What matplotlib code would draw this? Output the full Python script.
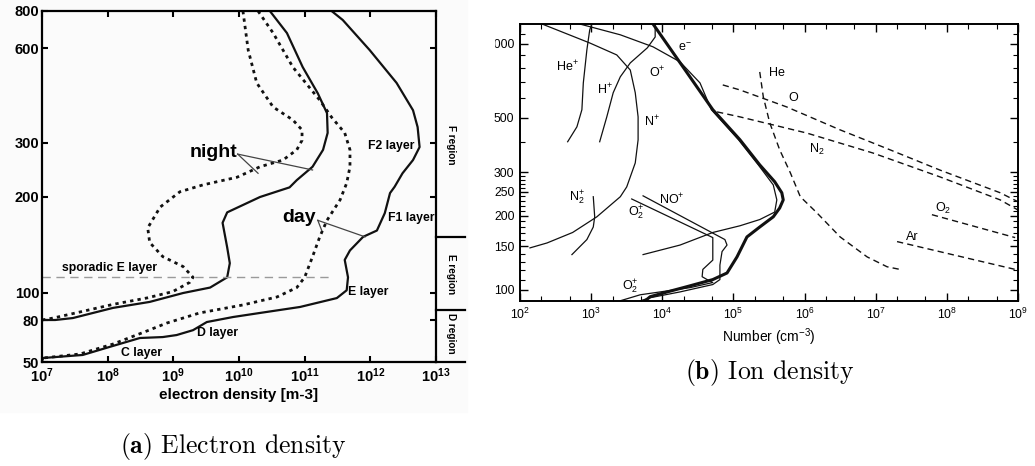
import matplotlib.pyplot as plt
import numpy as np
from matplotlib.patches import Rectangle
from matplotlib.ticker import FixedLocator, NullFormatter, LogLocator

plt.rcParams['font.family'] = ['Liberation Sans', 'DejaVu Sans']
plt.rcParams['mathtext.fontset'] = 'custom'
plt.rcParams['mathtext.rm'] = 'Liberation Sans'
plt.rcParams['mathtext.it'] = 'Liberation Sans:italic'
plt.rcParams['mathtext.bf'] = 'Liberation Sans:bold'

# ---------------- (a) electron density: altitude [km], log10 density [m-3]
night_es_alt = [800, 591, 465, 390, 355, 330, 306, 285, 264, 251, 232, 219, 208, 186,
                160, 144, 130, 121, 112, 108, 101, 96, 91, 85.5, 81.3, 80]
night_es_logn = [10.06, 10.14, 10.27, 10.52, 10.82, 10.96, 10.96, 10.88, 10.67, 10.32,
                 9.97, 9.45, 9.10, 8.80, 8.61, 8.64, 8.84, 9.15, 9.30, 9.25, 8.99, 8.60,
                 8.08, 7.58, 7.17, 7.0]

night_alt = [800, 674, 522, 431, 373, 323, 285, 251, 227, 215, 200, 179, 166, 139, 124,
             112, 104, 100, 92.9, 88.4, 81.3, 80, 80]
night_logn = [10.47, 10.73, 10.97, 11.20, 11.34, 11.35, 11.28, 11.12, 10.88, 10.77, 10.32,
              9.82, 9.75, 9.82, 9.86, 9.82, 9.56, 9.15, 8.64, 8.08, 7.47, 7.2, 7.0]

day_min_alt = [800, 674, 522, 410, 362, 323, 285, 251, 222, 196, 169, 150, 130, 112, 104,
               96.8, 90.6, 84.8, 77.3, 70.8, 61.1, 54.7, 52.3]
day_min_logn = [10.29, 10.52, 10.82, 11.23, 11.41, 11.61, 11.69, 11.69, 11.64, 11.54, 11.34,
                11.23, 11.12, 11.00, 10.88, 10.58, 10.06, 9.40, 8.90, 8.60, 8.08, 7.58, 7.02]

day_alt = [800, 746, 591, 465, 381, 337, 291, 264, 239, 216, 206, 178, 157, 150, 136, 127,
           112, 102, 95.9, 89.1, 84.8, 82.0, 78.2, 71.4, 67.6, 66.1, 65.4, 59.2, 54.1, 52.3, 50.5]
day_logn = [11.41, 11.58, 11.99, 12.40, 12.65, 12.72, 12.75, 12.65, 12.49, 12.37, 12.30,
            12.22, 12.10, 11.89, 11.69, 11.61, 11.66, 11.64, 11.49, 10.93, 10.32, 9.91, 9.51,
            9.30, 9.05, 8.84, 8.49, 8.03, 7.62, 7.02, 7.0]

sporadic_e_alt = 112
sporadic_e_end = 2.4e11
region_bounds = [150, 87]
region_names = ['F region', 'E region', 'D region']
region_mid_alt = [297, 115, 69]
alt_ticks = [50, 80, 100, 200, 300, 600, 800]
ne_ticks = [1e7, 1e8, 1e9, 1e10, 1e11, 1e12, 1e13]

# ---------------- (b) ion / neutral densities: altitude [km], log10 density [cm-3]
ion_alt = {
    'e': [1205, 807, 540, 408, 322, 275, 248, 232, 215, 198, 180, 164, 136, 117, 110, 103, 98, 93.7, 90.2],
    'O+': [1205, 1089, 973, 845, 694, 540, 408, 322, 267, 232, 207, 193, 182, 171, 152, 139],
    'N+': [1205, 1009, 902, 783, 633, 505, 407, 328, 262, 239, 198, 171, 155, 148],
    'H+': [1205, 1067, 964, 837, 735, 633, 505, 400],
    'He+': [1205, 1140, 946, 694, 540, 460, 400],
    'N2+': [239, 198, 180, 160, 139],
    'NO+': [241, 160, 152, 143, 126, 110, 105, 98, 92.8, 90.2],
    'O2+': [234, 163, 132, 121, 113, 110, 107, 102, 95.4, 90.2],
}
ion_logn = {
    'e': [3.87, 4.29, 4.71, 5.09, 5.37, 5.58, 5.68, 5.70, 5.65, 5.56, 5.37, 5.19, 5.05, 4.91, 4.71, 4.35, 4.07, 3.83, 3.76],
    'O+': [2.84, 3.41, 3.87, 4.25, 4.53, 4.69, 5.07, 5.35, 5.56, 5.61, 5.58, 5.37, 5.09, 4.71, 4.25, 3.73],
    'N+': [2.31, 2.98, 3.36, 3.55, 3.62, 3.66, 3.66, 3.62, 3.50, 3.41, 3.08, 2.74, 2.38, 2.14],
    'H+': [3.90, 3.90, 3.79, 3.55, 3.41, 3.31, 3.22, 3.12],
    'He+': [3.01, 2.98, 2.94, 2.89, 2.87, 2.80, 2.67],
    'N2+': [3.03, 3.05, 3.03, 2.94, 2.73],
    'NO+': [3.73, 4.88, 4.91, 4.84, 4.81, 4.81, 4.71, 4.25, 3.83, 3.69],
    'O2+': [3.57, 4.71, 4.71, 4.57, 4.56, 4.63, 4.71, 4.39, 3.69, 3.41],
}
neutral_alt = {
    'He': [769, 609, 478, 371, 299, 239, 206, 164, 136, 124, 121],
    'O': [681, 650, 554, 447, 371, 307, 248, 228],
    'N2': [529, 505, 434, 360, 288, 232, 211],
    'O2': [202, 163],
    'Ar': [157, 121],
}
neutral_logn = {
    'He': [5.37, 5.42, 5.51, 5.65, 5.80, 5.94, 6.17, 6.50, 6.88, 7.16, 7.34],
    'O': [4.85, 5.09, 5.75, 6.50, 7.20, 7.90, 8.75, 9.0],
    'N2': [4.77, 5.09, 6.03, 6.96, 7.90, 8.75, 9.0],
    'O2': [7.79, 8.96],
    'Ar': [7.30, 8.96],
}
# label text, log10 density, altitude
ion_labels = [(r'e$^{-}$', 4.32, 964), (r'O$^{+}$', 3.93, 763), (r'H$^{+}$', 3.19, 650),
              (r'He$^{+}$', 2.67, 807), (r'N$^{+}$', 3.86, 482), (r'N$_2^{+}$', 2.80, 237),
              (r'NO$^{+}$', 4.14, 232), (r'O$_2^{+}$', 3.64, 206), (r'O$_2^{+}$', 3.55, 103),
              ('He', 5.61, 763), ('O', 5.84, 603), (r'N$_2$', 6.17, 371),
              (r'O$_2$', 7.95, 215), ('Ar', 7.52, 164)]
alt_ticks_b = [100, 150, 200, 250, 300, 500, 1000]
alt_minor_b = [110, 120, 130, 140, 160, 170, 180, 190, 210, 220, 230, 240, 260, 270, 280, 290,
               400, 600, 700, 800, 900, 1100]


def logn(v):
    return 10 ** np.asarray(v)


fig = plt.figure(figsize=(10.35, 4.66), dpi=100)
W, H = 1035, 466

# faint grey backdrop behind the scanned electron density panel
fig.add_artist(Rectangle((0, 1 - 412 / H), 467 / W, 412 / H, transform=fig.transFigure,
                         color='#fbfbfb', zorder=-5))

# ---------------- panel (a)
ax = fig.add_axes([42 / W, 1 - 362 / H, 394 / W, 351 / H])
ax.set_facecolor('none')

# uneven altitude axis of the original plot
alt_knots = np.log10([50, 80, 100, 200, 300, 600, 800])
pos_knots = np.array([0, 42, 69, 165, 219, 314, 351]) / 351


def alt_to_pos(a):
    a = np.clip(np.asarray(a, dtype=float), 1e-3, None)
    return np.interp(np.log10(a), alt_knots, pos_knots)


def pos_to_alt(p):
    return 10 ** np.interp(np.asarray(p, dtype=float), pos_knots, alt_knots)


ax.set_xscale('log')
ax.set_yscale('function', functions=(alt_to_pos, pos_to_alt))
ax.set_xlim(1e7, 1e13)
ax.set_ylim(50, 800)

dots = (0, (1.2, 1.5))
ax.plot(logn(night_es_logn), night_es_alt, color='#111', lw=2.0, ls=dots)
ax.plot(logn(night_logn), night_alt, color='#111', lw=1.6)
ax.plot(logn(day_min_logn), day_min_alt, color='#111', lw=2.0, ls=dots)
ax.plot(logn(day_logn), day_alt, color='#111', lw=1.6)
ax.plot([1e7, sporadic_e_end], [sporadic_e_alt] * 2, color='#9a9a9a', lw=1.0, ls=(0, (6, 4)))

# pointers from the night / day labels
ax.plot([10 ** 9.98, 10 ** 11.12], [276, 245], color='#444', lw=0.9)
ax.plot([10 ** 9.98, 10 ** 10.29], [276, 239], color='#444', lw=0.9)
ax.plot([10 ** 11.20, 10 ** 11.92], [169, 150], color='#444', lw=0.9)
ax.plot([10 ** 11.20, 10 ** 11.26], [169, 157], color='#444', lw=0.9)

bold = dict(fontweight='bold', ha='center', va='center')
ax.text(10 ** 9.97, 279, 'night', fontsize=14, **{**bold, 'ha': 'right'})
ax.text(10 ** 11.17, 172, 'day', fontsize=14, **{**bold, 'ha': 'right'})
ax.text(10 ** 8.03, 120, 'sporadic E layer', fontsize=8.8, **bold)
ax.text(10 ** 8.52, 55.3, 'C layer', fontsize=8.8, **bold)
ax.text(10 ** 9.68, 69.2, 'D layer', fontsize=8.8, **bold)
ax.text(10 ** 11.96, 100.7, 'E layer', fontsize=8.8, **bold)
ax.text(10 ** 12.62, 172, 'F1 layer', fontsize=8.8, **bold)
ax.text(10 ** 12.31, 293, 'F2 layer', fontsize=8.8, **bold)

# region band to the right of the frame
band = ax.get_yaxis_transform()
for h in region_bounds + [50]:
    ax.plot([1, 1.074], [h, h], transform=band, color='k', lw=1.6, clip_on=False)
for name, h in zip(region_names, region_mid_alt):
    ax.text(1.037, h, name, transform=band, rotation=-90, fontsize=7.2, **bold)

ax.set_yticks(alt_ticks)
ax.set_yticklabels([str(t) for t in alt_ticks], fontweight='bold', fontsize=10.5)
ax.yaxis.set_minor_locator(FixedLocator([]))
ax.set_xticks(ne_ticks)
ax.set_xticklabels([r'$\mathbf{10^{%d}}$' % np.log10(t) for t in ne_ticks], fontsize=10.5)
ax.xaxis.set_minor_locator(FixedLocator([]))
ax.tick_params(direction='in', length=4, width=1.5, top=True, right=True, pad=2)
ax.tick_params(axis='x', pad=3)
ax.set_xlabel('electron density [m-3]', fontweight='bold', fontsize=11, labelpad=2)
for s in ax.spines.values():
    s.set_linewidth(1.6)

# ---------------- panel (b)
bx = fig.add_axes([520 / W, 1 - 301 / H, 498 / W, 277 / H])
bx.set_xscale('log')
bx.set_yscale('log')
bx.set_xlim(1e2, 1e9)
bx.set_ylim(90, 1205)

for key in ion_alt:
    bx.plot(logn(ion_logn[key]), ion_alt[key], color='#111',
            lw=2.2 if key == 'e' else 0.9)
for key in neutral_alt:
    bx.plot(logn(neutral_logn[key]), neutral_alt[key], color='#111', lw=1.0, ls=(0, (4.5, 3)))
for txt, lx, alt in ion_labels:
    bx.text(10 ** lx, alt, txt, fontsize=9, ha='center', va='center')

bx.yaxis.set_major_locator(FixedLocator(alt_ticks_b))
bx.yaxis.set_minor_locator(FixedLocator(alt_minor_b))
bx.set_yticklabels([str(t) for t in alt_ticks_b])
bx.yaxis.set_minor_formatter(NullFormatter())
bx.xaxis.set_major_locator(LogLocator(base=10))
bx.xaxis.set_minor_locator(LogLocator(base=10, subs=(2, 5)))
bx.xaxis.set_minor_formatter(NullFormatter())
bx.tick_params(which='both', direction='in', top=True, right=True, labelsize=8.8, pad=4)
bx.tick_params(which='major', length=6, width=1.0)
bx.tick_params(which='minor', length=3.5, width=0.8)
bx.set_xlabel(r'Number (cm$^{-3}$)', fontsize=10, labelpad=3)
for s in bx.spines.values():
    s.set_linewidth(1.4)

# the scanned panel cuts off the leading digit of the top tick label
fig.add_artist(Rectangle((470 / W, 1 - 54 / H), 24 / W, 20 / H, transform=fig.transFigure,
                         color='white', zorder=10))

# captions
fig.text(233 / W, 1 - 446 / H, r'$\mathbf{(a)}$ Electron density', ha='center', va='center',
         fontsize=18.5, family='cmr10', math_fontfamily='cm')
fig.text(770 / W, 1 - 372 / H, r'$\mathbf{(b)}$ Ion density', ha='center', va='center',
         fontsize=18.5, family='cmr10', math_fontfamily='cm')

fig.savefig('out.png', dpi=100)
